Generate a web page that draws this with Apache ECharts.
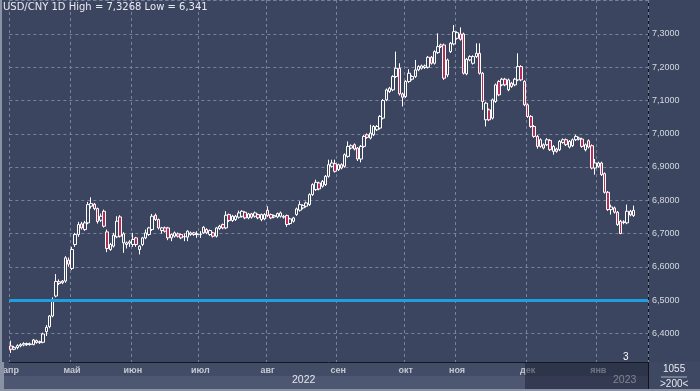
<!DOCTYPE html>
<html><head><meta charset="utf-8">
<script src="https://cdn.jsdelivr.net/npm/echarts@6/dist/echarts.min.js"></script>
<style>html,body{margin:0;padding:0;background:#3b4560}#c{width:700px;height:391px}</style>
</head><body><div id="c"></div>
<script>
// ---- data ----
const titleText = 'USD/CNY 1D High = 7,3268 Low = 6,341';
const monthNames = ['апр','май','июн','июл','авг','сен','окт','ноя','дек','янв'];
const monthCounts = [19,19,21,21,22,21,16,22,22,12];
const futureSlots = ['+1','+2','+3','+4'];
const yearLabels = ['2022','2023'];
const supportLevel = 6.5;
const opens = [
6.362,6.352,6.357,6.362,6.365,6.369,6.366,6.366,6.378,6.372,6.373,6.405,6.420,6.452,6.512,6.555,6.552,6.557,6.620,
6.595,6.667,6.697,6.729,6.712,6.732,6.782,6.788,6.775,6.740,6.767,6.705,6.652,6.662,6.690,6.750,6.672,6.667,6.671,
6.667,6.687,6.652,6.667,6.687,6.697,6.712,6.755,6.742,6.709,6.717,6.717,6.687,6.692,6.699,6.697,6.690,6.689,6.697,6.702,6.697,
6.697,6.702,6.712,6.697,6.702,6.692,6.715,6.727,6.717,6.757,6.739,6.742,6.749,6.752,6.764,6.747,6.759,6.752,6.757,6.742,6.744,
6.770,6.757,6.750,6.750,6.752,6.752,6.754,6.730,6.737,6.757,6.770,6.777,6.782,6.787,6.817,6.832,6.852,6.842,6.847,6.872,6.902,6.910,
6.892,6.907,6.902,6.932,6.957,6.967,6.957,6.924,6.962,6.997,6.987,6.997,7.012,7.017,7.047,7.102,7.127,7.132,7.172,7.197,7.120,
7.112,7.157,7.164,7.172,7.192,7.197,7.199,7.200,7.230,7.212,7.244,7.262,7.267,7.177,7.247,7.270,
7.287,7.300,7.300,7.180,7.222,7.212,7.232,7.242,7.182,7.042,7.072,7.047,7.097,7.157,7.147,7.164,7.132,7.152,7.147,7.162,7.202,7.157,
7.087,7.052,7.022,6.992,6.962,6.967,6.967,6.980,6.947,6.954,6.952,6.974,6.982,6.960,6.964,6.982,6.984,6.984,6.952,6.979,6.964,6.897,
6.902,6.912,6.880,6.824,6.772,6.777,6.764,6.737,6.733,6.732,6.767,6.754
];
const closes = [
6.352,6.358,6.363,6.366,6.369,6.366,6.368,6.380,6.372,6.375,6.398,6.418,6.452,6.502,6.556,6.550,6.557,6.627,6.608,
6.652,6.697,6.727,6.717,6.732,6.787,6.790,6.775,6.736,6.752,6.722,6.655,6.667,6.695,6.737,6.692,6.699,6.672,6.675,
6.682,6.667,6.662,6.687,6.702,6.717,6.752,6.742,6.717,6.717,6.707,6.687,6.697,6.702,6.692,6.687,6.691,6.707,6.702,6.697,6.699,
6.698,6.719,6.702,6.709,6.692,6.717,6.722,6.717,6.755,6.739,6.752,6.752,6.762,6.767,6.747,6.759,6.749,6.762,6.747,6.757,6.757,
6.754,6.747,6.754,6.760,6.762,6.749,6.727,6.744,6.747,6.774,6.787,6.784,6.792,6.817,6.847,6.854,6.834,6.857,6.872,6.907,6.912,6.887,
6.907,6.897,6.937,6.962,6.964,6.954,6.924,6.962,6.992,6.989,7.002,7.022,7.022,7.052,7.100,7.132,7.137,7.172,7.197,7.120,7.110,
7.157,7.182,7.172,7.192,7.202,7.204,7.204,7.230,7.212,7.247,7.262,7.267,7.167,7.222,7.272,7.307,
7.304,7.284,7.182,7.224,7.232,7.232,7.242,7.182,7.097,7.092,7.042,7.102,7.147,7.117,7.164,7.147,7.162,7.142,7.164,7.202,7.162,7.087,
7.052,7.022,6.992,6.962,6.982,6.957,6.982,6.952,6.962,6.947,6.977,6.982,6.967,6.977,6.982,6.992,6.987,6.962,6.967,6.960,6.897,6.912,
6.912,6.877,6.824,6.772,6.780,6.764,6.727,6.700,6.735,6.767,6.756,6.770
];
const highs = [
6.378,6.362,6.367,6.370,6.373,6.372,6.372,6.383,6.381,6.378,6.402,6.425,6.455,6.508,6.578,6.562,6.560,6.632,6.628,
6.660,6.702,6.735,6.735,6.738,6.795,6.809,6.792,6.778,6.760,6.772,6.712,6.672,6.702,6.752,6.755,6.704,6.676,6.680,
6.702,6.690,6.665,6.690,6.712,6.720,6.759,6.760,6.745,6.720,6.721,6.720,6.700,6.706,6.703,6.700,6.700,6.710,6.706,6.705,6.707,
6.707,6.722,6.716,6.712,6.705,6.720,6.726,6.730,6.767,6.760,6.756,6.756,6.769,6.770,6.767,6.762,6.762,6.766,6.760,6.760,6.761,
6.782,6.760,6.757,6.763,6.766,6.756,6.757,6.747,6.750,6.778,6.797,6.788,6.796,6.821,6.851,6.862,6.856,6.861,6.876,6.922,6.922,6.922,
6.910,6.911,6.941,6.977,6.968,6.971,6.960,6.966,6.996,7.001,7.027,7.026,7.026,7.056,7.104,7.136,7.141,7.176,7.247,7.212,7.124,
7.161,7.194,7.176,7.222,7.206,7.208,7.208,7.234,7.234,7.251,7.302,7.271,7.271,7.226,7.276,7.3268,
7.308,7.320,7.304,7.228,7.236,7.236,7.272,7.272,7.186,7.096,7.076,7.106,7.151,7.161,7.168,7.168,7.166,7.156,7.168,7.242,7.206,7.161,
7.091,7.056,7.026,6.996,6.986,6.971,6.987,6.984,6.966,6.958,6.981,6.986,6.986,6.981,6.986,6.997,6.991,6.988,6.971,6.983,6.968,6.924,
6.916,6.916,6.884,6.828,6.787,6.781,6.768,6.741,6.740,6.787,6.771,6.784
];
const lows = [
6.341,6.349,6.352,6.358,6.361,6.362,6.363,6.364,6.369,6.368,6.370,6.392,6.415,6.448,6.508,6.545,6.548,6.552,6.600,
6.590,6.660,6.690,6.712,6.708,6.728,6.775,6.770,6.730,6.735,6.718,6.644,6.648,6.658,6.686,6.688,6.642,6.655,6.660,
6.660,6.660,6.637,6.662,6.683,6.693,6.708,6.738,6.712,6.700,6.703,6.680,6.677,6.688,6.688,6.683,6.677,6.677,6.693,6.693,6.687,
6.687,6.699,6.698,6.693,6.688,6.688,6.711,6.713,6.713,6.735,6.735,6.738,6.745,6.748,6.743,6.743,6.745,6.748,6.743,6.737,6.740,
6.750,6.743,6.746,6.746,6.748,6.745,6.720,6.726,6.733,6.753,6.766,6.773,6.778,6.783,6.813,6.828,6.830,6.838,6.843,6.868,6.898,6.883,
6.888,6.893,6.898,6.928,6.953,6.950,6.918,6.914,6.958,6.985,6.983,6.993,7.008,7.013,7.043,7.098,7.123,7.128,7.168,7.115,7.082,
7.108,7.153,7.160,7.168,7.188,7.193,7.195,7.196,7.208,7.208,7.240,7.258,7.162,7.170,7.243,7.266,
7.283,7.280,7.178,7.176,7.218,7.208,7.228,7.178,7.072,7.022,7.038,7.043,7.093,7.113,7.143,7.143,7.128,7.138,7.143,7.158,7.158,7.083,
7.048,7.018,6.988,6.955,6.958,6.953,6.963,6.948,6.937,6.943,6.948,6.970,6.963,6.956,6.960,6.978,6.980,6.958,6.947,6.956,6.893,6.877,
6.898,6.873,6.820,6.768,6.757,6.760,6.723,6.698,6.728,6.728,6.752,6.750
];

// ---- build ----
const categories = [];
monthNames.forEach((m, i) => { for (let k = 0; k < monthCounts[i]; k++) categories.push(m + ' ' + (k + 1)); });
futureSlots.forEach(s => categories.push(s));
const candles = closes.map((c, i) => [opens[i], c, lows[i], highs[i]]);
const lastClose = closes[closes.length - 1];
const fmt4 = v => v.toFixed(4).replace('.', ',');
const isMonthStart = (idx, val) => typeof val === 'string' && val.endsWith(' 1') && !val.endsWith(' 11') && !val.endsWith(' 21');

const FONT = 'Liberation Sans';
const chart = echarts.init(document.getElementById('c'));
chart.setOption({
  animation: false,
  backgroundColor: '#3b4560',
  title: { text: titleText, left: 3, top: 2, padding: 0,
    textStyle: { color: '#e8eaf0', fontSize: 10, fontWeight: 'normal', fontFamily: 'DejaVu Sans' } },
  grid: { left: 3, right: 52, top: 0, bottom: 29, containLabel: false },
  xAxis: {
    type: 'category', data: categories, boundaryGap: true, z: 1,
    axisLine: { show: true, onZero: false, lineStyle: { color: '#14171e', width: 1 } },
    axisTick: { show: false },
    axisLabel: { interval: isMonthStart, formatter: v => v.split(' ')[0], color: '#c3c8d3',
      fontSize: 9, fontWeight: 'bold', fontFamily: FONT, margin: 4, alignMinLabel: 'center' },
    splitLine: { show: true, interval: isMonthStart, lineStyle: { color: '#78829c', type: [3, 3], width: 1 } }
  },
  yAxis: {
    type: 'value', position: 'right', min: 6.3137, max: 7.4022, minInterval: 0.1, maxInterval: 0.1,
    axisLine: { show: true, lineStyle: { color: '#111318', width: 1 } },
    axisTick: { show: false },
    axisLabel: { formatter: v => (v < 6.35 || v > 7.35) ? '' : fmt4(v), color: '#d5d9e2',
      fontSize: 9, margin: 4, fontFamily: FONT, showMinLabel: false, showMaxLabel: false },
    splitLine: { show: true, lineStyle: { color: '#78829c', type: [3, 3], width: 1 } }
  },
  series: [{
    type: 'candlestick', data: candles, barWidth: 3,
    itemStyle: { color: '#3b4560', color0: '#b82a57', borderColor: '#ffffff', borderColor0: '#ffffff', borderWidth: 1 },
    markLine: {
      silent: true, symbol: 'none', animation: false,
      data: [
        { yAxis: supportLevel, lineStyle: { color: '#1d9fe0', width: 3, type: 'solid' }, label: { show: false } },
        { yAxis: lastClose, lineStyle: { opacity: 0 },
          label: { show: true, position: 'end', formatter: () => fmt4(lastClose), backgroundColor: '#cdd1d8',
            color: '#2a2d33', padding: [2, 3, 1, 4], fontSize: 9, fontFamily: FONT, distance: 1 } }
      ]
    }
  }],
  graphic: { elements: [
    { type: 'rect', z: 0, shape: { x: 0, y: 362, width: 648, height: 14 }, style: { fill: '#434c66' } },
    { type: 'rect', z: 0, shape: { x: 0, y: 376, width: 648, height: 15 }, style: { fill: '#4e5772' } },
    { type: 'rect', z: 0, shape: { x: 648, y: 362, width: 52, height: 29 }, style: { fill: '#3f4862' } },
    { type: 'text', z: 2, left: 292, top: 375, style: { text: yearLabels[0], fill: '#e4e7ee', font: '10.5px ' + FONT } },
    { type: 'text', z: 2, left: 613, top: 375, style: { text: yearLabels[1], fill: '#e4e7ee', font: '10.5px ' + FONT } },
    { type: 'rect', z: 10, shape: { x: 525, y: 362.5, width: 123, height: 27 }, style: { fill: 'rgba(24,30,48,0.5)' } },
    { type: 'text', z: 10, left: 623, top: 352, style: { text: '3', fill: '#ffffff', font: '10px ' + FONT } },
    { type: 'text', z: 10, left: 663, top: 364, style: { text: '1055', fill: '#e6e9f0', font: '10px ' + FONT } },
    { type: 'line', z: 10, shape: { x1: 661, y1: 377, x2: 687, y2: 377 }, style: { stroke: '#aab0be', lineWidth: 1 } },
    { type: 'text', z: 10, left: 660, top: 379, style: { text: '>200<', fill: '#e6e9f0', font: '10px ' + FONT } },
    { type: 'line', z: 10, shape: { x1: 648.5, y1: 362, x2: 648.5, y2: 391 }, style: { stroke: '#111318', lineWidth: 1 } },
    { type: 'rect', z: 12, shape: { x: 0, y: 0, width: 2, height: 391 }, style: { fill: '#8a93a6' } },
    { type: 'rect', z: 12, shape: { x: 0, y: 362, width: 4, height: 29 }, style: { fill: '#8a93a6' } },
    { type: 'rect', z: 12, shape: { x: 0, y: 389, width: 700, height: 2 }, style: { fill: '#8a93a6' } }
  ] }
});
</script></body></html>
